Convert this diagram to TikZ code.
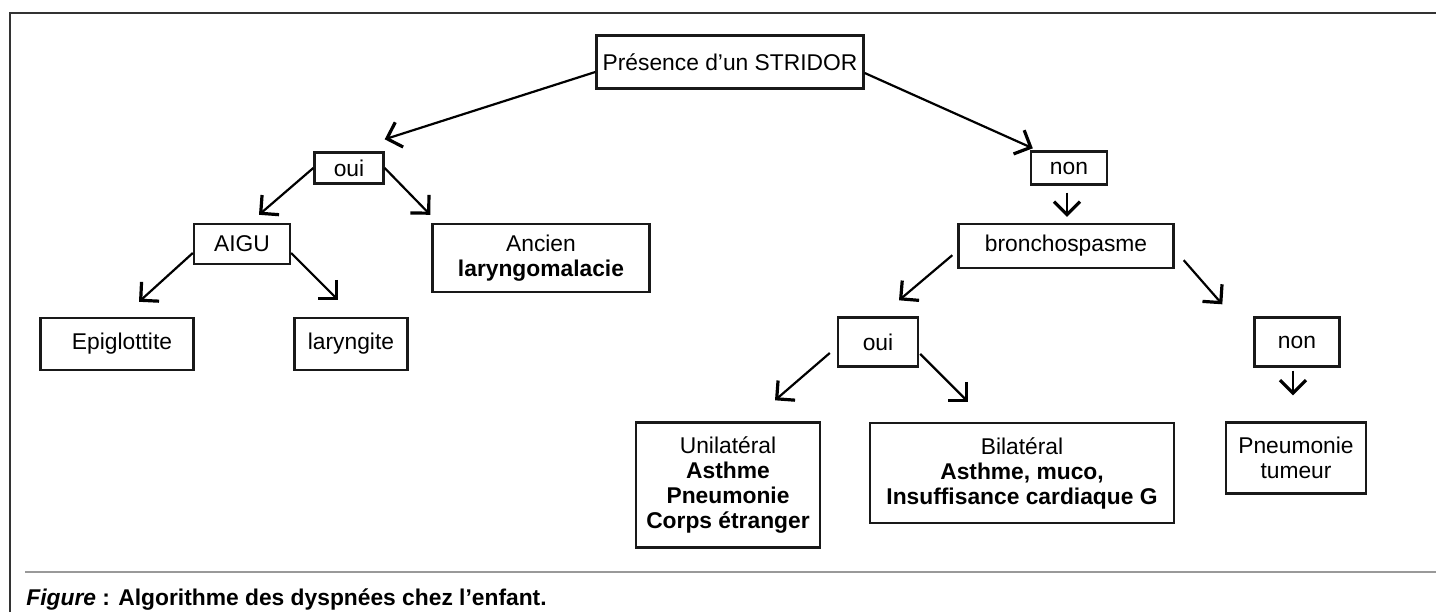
\documentclass[tikz,border=0pt]{standalone}
\usepackage{fontspec}
\setmainfont{Liberation Sans}
\usetikzlibrary{arrows.meta}

\begin{document}
\begin{tikzpicture}[x=0.5pt,y=-0.5pt,
    >={Straight Barb[length=6.5pt,width=13pt,line width=1.6pt]},
    boite/.style={draw=black!90, line width=1.2pt, align=center, inner sep=0pt,
        font=\fontsize{11.4}{12.5}\selectfont},
    fleche/.style={->, line width=1.1pt}]
    % --- Cadre ---
    \useasboundingbox (0,0) rectangle (1436,612);
    \draw[line width=1pt, black!80] (10,612) -- (10,13) -- (1436,13);
    \draw[line width=1pt, black!40] (25,572) -- (1436,572);
    % Legende sous le trait gris
    \node[anchor=base west, inner sep=0pt, font=\fontsize{11.4}{13}\selectfont\bfseries]
        (legende) at (26,605) {\textit{Figure} : Algorithme des dyspnées chez l’enfant.};

    % --- Racine ---
    \node[boite, minimum width=133.5pt, minimum height=26.5pt] (stridor) at (730,62) {Présence d’un STRIDOR};

    % --- Branche gauche (stridor) ---
    \node[boite, minimum width=34.5pt, minimum height=15.5pt] (ouiA) at (349,168) {oui};
    \node[boite, minimum width=48pt, minimum height=20pt] (aigu) at (242,244) {AIGU};
    \node[boite, minimum width=108.5pt, minimum height=34pt] (ancien) at (541,258) {Ancien\\\textbf{laryngomalacie}};
    \node[boite, minimum width=76.5pt, minimum height=26pt] (epi) at (117,344) {\hspace{5pt}Epiglottite};
    \node[boite, minimum width=56.5pt, minimum height=26pt] (laryn) at (351,344) {laryngite};

    % --- Branche droite (pas de stridor) ---
    \node[boite, minimum width=38pt, minimum height=16.5pt] (nonA) at (1069,168) {non};
    \node[boite, minimum width=107.5pt, minimum height=22pt] (broncho) at (1066,246) {bronchospasme};
    \node[boite, minimum width=40pt, minimum height=24.5pt] (ouiB) at (878,342) {oui};
    \node[boite, minimum width=42.5pt, minimum height=24.5pt] (nonB) at (1297,342) {non};
    \node[boite, minimum width=92pt, minimum height=62.5pt] (uni) at (728,485)
        {Unilatéral\\\textbf{Asthme}\\\textbf{Pneumonie}\\\textbf{Corps étranger}};
    \node[boite, minimum width=152pt, minimum height=50pt] (bil) at (1022,473)
        {Bilatéral\\\textbf{Asthme, muco,}\\\textbf{Insuffisance cardiaque G}};
    \node[boite, minimum width=70pt, minimum height=35.5pt] (pneu) at (1296,458) {Pneumonie\\tumeur};

    % --- Fleches ---
    \draw[fleche] ([shift={(0,10)}]stridor.west) -- ([shift={(0,-12)}]ouiA.north east);
    \draw[fleche] ([shift={(0,11)}]stridor.east) -- ([shift={(3,-2)}]nonA.north west);
    \draw[fleche] (ouiA.west) -- ([shift={(17,-8)}]aigu.north);
    \draw[fleche] (ouiA.east) -- ([shift={(-1,-8)}]ancien.north west);
    \draw[fleche] ([shift={(0,9)}]aigu.west) -- ([shift={(22,-15)}]epi.north);
    \draw[fleche] ([shift={(0,9)}]aigu.east) -- ([shift={(-13,-17)}]laryn.north);
    \draw[fleche] ([shift={(-2,7)}]nonA.south) -- ([shift={(1,-6)}]broncho.north);
    \draw[fleche] ([shift={(-5,-14)}]broncho.south west) -- ([shift={(21,-16)}]ouiB.north);
    \draw[fleche] ([shift={(9,-9)}]broncho.south east) -- ([shift={(-31,-12)}]nonB.north west);
    \draw[fleche] ([shift={(-7,11)}]ouiB.west) -- ([shift={(47,-21)}]uni.north);
    \draw[fleche] ([shift={(1,12)}]ouiB.east) -- ([shift={(-54,-20)}]bil.north);
    \draw[fleche] ([shift={(-4,3)}]nonB.south) -- ([shift={(-3,-26)}]pneu.north);
\end{tikzpicture}
\end{document}
